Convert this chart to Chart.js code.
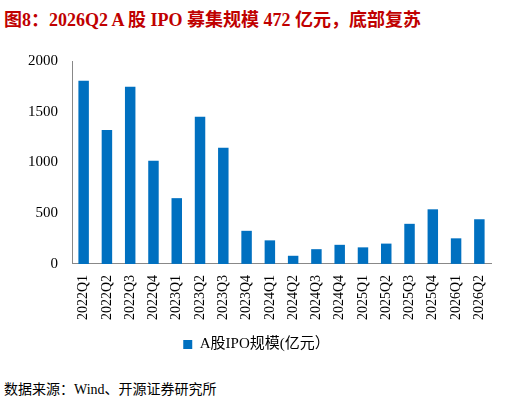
<!DOCTYPE html>
<html><head><meta charset="utf-8">
<script src="https://cdn.jsdelivr.net/npm/chart.js@4/dist/chart.umd.min.js"></script>
<style>
body{margin:0;width:521px;height:406px;background:#fff;font-family:"Times New Roman","Liberation Serif","Noto Sans CJK SC",serif;position:relative;overflow:hidden}
#title{position:absolute;left:4px;top:5px;font-size:18px;font-weight:bold;color:#c00000;font-family:"Liberation Serif","Noto Sans CJK SC",serif}
#box{position:absolute;left:0;top:40px;width:521px;height:322px}
#src{position:absolute;left:4px;top:378px;font-size:14px;color:#000;font-family:"Liberation Serif","Noto Sans CJK SC",serif}
</style></head><body>
<div id="title">图8：2026Q2 A 股 IPO 募集规模 472 亿元，底部复苏</div>
<div id="box"><canvas id="c"></canvas></div>
<div id="src">数据来源：Wind、开源证券研究所</div>
<script>
var quarters = ['2022Q1','2022Q2','2022Q3','2022Q4','2023Q1','2023Q2','2023Q3','2023Q4','2024Q1','2024Q2','2024Q3','2024Q4','2025Q1','2025Q2','2025Q3','2025Q4','2026Q1','2026Q2'];
var ipoSize = [1805, 1320, 1745, 1016, 648, 1450, 1145, 326, 232, 80, 145, 188, 163, 200, 395, 538, 252, 440];
var yTicks = [0, 500, 1000, 1500, 2000];

Chart.defaults.font.family = '"Liberation Serif","Noto Sans CJK SC",serif';
Chart.defaults.color = '#000';
new Chart(document.getElementById('c'), {
    type: 'bar',
    data: {
        labels: quarters,
        datasets: [{
            label: 'A股IPO规模(亿元）',
            data: ipoSize,
            backgroundColor: '#0070c0',
            categoryPercentage: 0.75,
            barPercentage: 0.6
        }]
    },
    options: {
        responsive: true,
        maintainAspectRatio: false,
        animation: false,
        layout: {padding: {left: 22, right: 30, top: 21, bottom: 0}},
        plugins: {
            legend: {
                position: 'bottom',
                labels: {boxWidth: 9, boxHeight: 9, font: {size: 15}, padding: 14}
            },
            tooltip: {enabled: false}
        },
        scales: {
            x: {
                grid: {display: false, drawTicks: true},
                border: {color: '#888'},
                ticks: {maxRotation: 90, minRotation: 90, font: {size: 14}, autoSkip: false}
            },
            y: {
                min: 0, max: 2000,
                afterBuildTicks: function (ax) { ax.ticks = yTicks.map(function (v) { return {value: v}; }); },
                grid: {display: false},
                border: {color: '#888'},
                ticks: {font: {size: 15}, padding: 6, callback: function (v) { return String(v); }}
            }
        }
    }
});
</script>
</body></html>
